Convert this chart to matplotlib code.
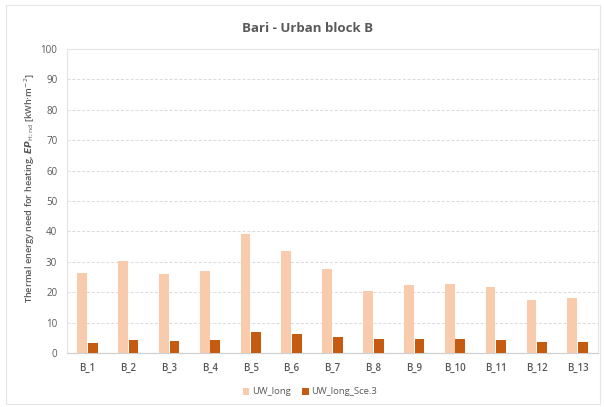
import numpy as np
import matplotlib
matplotlib.use("Agg")
import matplotlib.pyplot as plt
from matplotlib.patches import Rectangle

categories = ["B_1", "B_2", "B_3", "B_4", "B_5", "B_6", "B_7",
              "B_8", "B_9", "B_10", "B_11", "B_12", "B_13"]
uw_long = [26.2, 30.3, 26.0, 27.1, 39.0, 33.6, 27.7, 20.5, 22.4, 22.6, 21.6, 17.4, 18.1]
uw_long_sce3 = [3.3, 4.2, 4.0, 4.2, 6.9, 6.1, 5.2, 4.5, 4.6, 4.6, 4.3, 3.6, 3.7]
series_names = ["UW_long", "UW_long_Sce.3"]
yticks = np.arange(0, 101, 10)

plt.rcParams['font.family'] = ['Open Sans', 'DejaVu Sans']
text_col = "#595959"
grid_col = "#D9D9D9"

fig = plt.figure(figsize=(6.04, 4.07), dpi=100)
ax = fig.add_axes([67 / 604, 1 - 353 / 407, 531 / 604, 304 / 407])

# chart frame
fig.patches.append(Rectangle((6 / 604, 3 / 407), 594 / 604, 399 / 407,
                             transform=fig.transFigure, fill=False,
                             edgecolor="#E6E6E6", linewidth=0.8))

x = np.arange(len(categories))
w = 0.24
b1 = ax.bar(x - 0.13, uw_long, w, color="#F8CBAD", label=series_names[0], zorder=3)
b2 = ax.bar(x + 0.13, uw_long_sce3, w, color="#C55A11", label=series_names[1], zorder=3)

ax.set_xlim(-0.5, len(categories) - 0.5)
ax.set_ylim(0, 100)
ax.set_yticks(yticks)
ax.set_xticks(x)
ax.set_xticklabels(categories)
ax.tick_params(axis='both', length=0, labelsize=7, colors=text_col)
ax.tick_params(axis='x', pad=7)
ax.tick_params(axis='y', pad=7)
for lab in ax.get_xticklabels():
    lab.set_fontweight('semibold')

ax.yaxis.grid(True, linestyle=(0, (3, 2)), color=grid_col, linewidth=0.7, zorder=0)
for s in ['left', 'right', 'top']:
    ax.spines[s].set_color("#E3E3E3")
    ax.spines[s].set_linewidth(0.8)
ax.spines['bottom'].set_color("#D0D0D0")
ax.spines['bottom'].set_linewidth(0.9)

fig.text(30 / 604, 1 - 188 / 407,
         r"Thermal energy need for heating, $\boldsymbol{EP}_{\mathrm{H;nd}}$ [kWh$\cdot$m$^{-2}$]",
         rotation=90, ha='center', va='center',
         fontsize=6.6, color=text_col, fontweight='semibold')

fig.text(0.51, 1 - 29 / 407, "Bari - Urban block B", ha='center', va='center',
         fontsize=9.5, fontweight='bold', color=text_col)

fig.legend(handles=[b1, b2], loc='center', bbox_to_anchor=(310 / 604, 1 - 392 / 407),
           ncol=2, frameon=False, fontsize=6.8, labelcolor=text_col,
           handlelength=0.7, handleheight=0.7, handletextpad=0.3, columnspacing=1.2)

fig.savefig("out.png", dpi=100)
